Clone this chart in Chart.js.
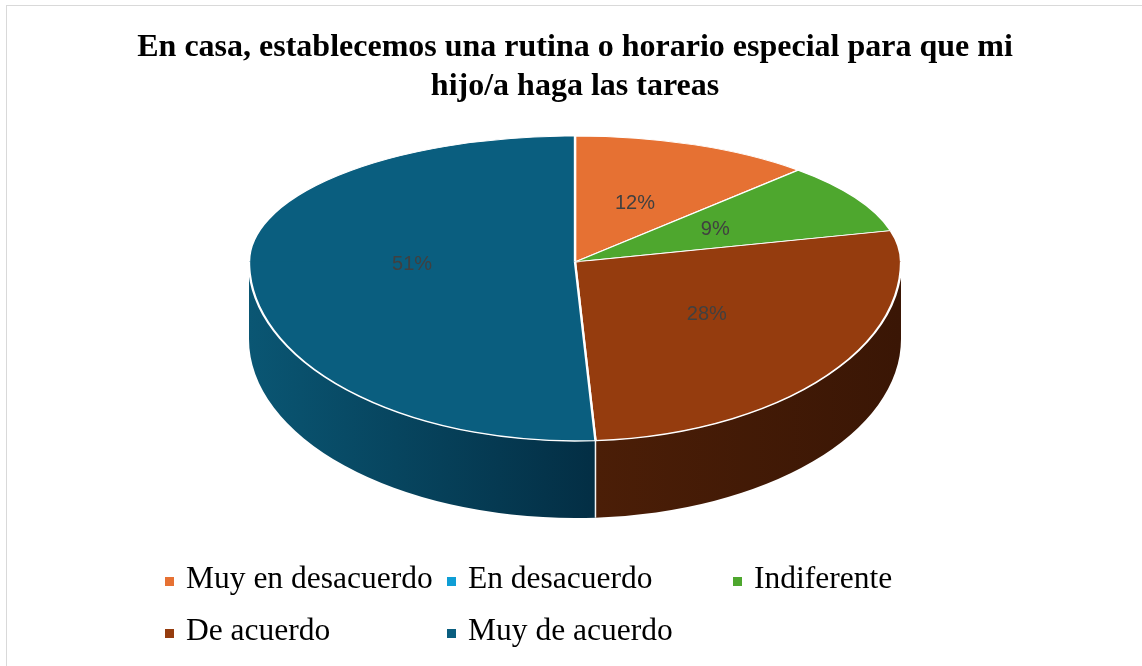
<!DOCTYPE html>
<html>
<head>
<meta charset="utf-8">
<script src="https://cdn.jsdelivr.net/npm/chart.js@4/dist/chart.umd.min.js"></script>
<style>
html,body{margin:0;padding:0;background:#fff;}
#wrap{position:relative;width:1142px;height:666px;overflow:hidden;}
#frame{position:absolute;left:6px;top:5px;width:1200px;height:720px;border:1px solid #d9d9d9;pointer-events:none;}
#c{position:absolute;left:0;top:0;}
.lg{position:absolute;font-family:"Liberation Serif","Times New Roman",serif;font-size:31.5px;line-height:30px;color:#000;white-space:nowrap;height:30px;}
.lg i{position:absolute;left:0;top:14px;width:9px;height:9px;}
.lg span{position:absolute;left:21px;top:0;}
</style>
</head>
<body>
<div id="wrap">
  <div id="frame"></div>
  <canvas id="c" width="1142" height="666"></canvas>
</div>
<script>
// ---- data ----
const titleLines = ["En casa, establecemos una rutina o horario especial para que mi", "hijo/a haga las tareas"];
const categories = ["Muy en desacuerdo", "En desacuerdo", "Indiferente", "De acuerdo", "Muy de acuerdo"];
const values = [12, 0, 9, 28, 51];
const colors = ["#E67133", "#0F9ED5", "#4EA72E", "#953C0E", "#0A5E7F"];
const wallColors = [["#8a4320","#6e3518"],["#095f80","#074a66"],["#2f651c","#244f16"],["#4B1E07","#3A1605"],["#0A5673","#032E44"]];

// ---- 3D pie geometry (view) ----
const CX = 575, CY = 262, RX = 326, RY_TOP = 126, RY_BOT = 179, DEPTH = 77;

function toScreen(arc0, px, py) {
  const R = arc0.outerRadius;
  const dx = px - arc0.x, dy = py - arc0.y;
  return { x: CX + dx * RX / R, y: CY + dy * (dy < 0 ? RY_TOP : RY_BOT) / R };
}

const pie3d = {
  id: 'pie3d',
  beforeDatasetDraw(chart, args) {
    const ctx = chart.ctx;
    const arcs = args.meta.data;
    if (!arcs.length) return;
    const ax = arcs[0].x, ay = arcs[0].y, R = arcs[0].outerRadius;
    // side walls (front half: canvas angles 0..PI)
    arcs.forEach((arc, i) => {
      const a = Math.max(arc.startAngle, 0), b = Math.min(arc.endAngle, Math.PI);
      if (b - a <= 1e-4) return;
      const xa = CX + RX * Math.cos(a), xb = CX + RX * Math.cos(b);
      const g = ctx.createLinearGradient(Math.min(xa, xb), 0, Math.max(xa, xb), 0);
      g.addColorStop(0, wallColors[i][0]);
      g.addColorStop(1, wallColors[i][1]);
      ctx.save();
      ctx.beginPath();
      ctx.ellipse(CX, CY, RX, RY_BOT, 0, a, b, false);
      ctx.lineTo(CX + RX * Math.cos(b), CY + DEPTH + RY_BOT * Math.sin(b));
      ctx.ellipse(CX, CY + DEPTH, RX, RY_BOT, 0, b, a, true);
      ctx.closePath();
      ctx.fillStyle = g;
      ctx.fill();
      ctx.restore();
    });
    // wall separators
    arcs.forEach((arc) => {
      const s = arc.startAngle;
      if (s > 0.001 && s < Math.PI - 0.001 && arc.circumference > 0) {
        const x = CX + RX * Math.cos(s), y = CY + RY_BOT * Math.sin(s);
        ctx.save();
        ctx.strokeStyle = '#f4f4f4';
        ctx.lineWidth = 1.5;
        ctx.beginPath();
        ctx.moveTo(x, y);
        ctx.lineTo(x, y + DEPTH);
        ctx.stroke();
        ctx.restore();
      }
    });
    // top face, drawn by the chart's own arc elements
    [[0, CY + 0.5, RY_TOP], [CY - 0.5, chart.height, RY_BOT]].forEach(([y0, y1, ry]) => {
      ctx.save();
      ctx.beginPath();
      ctx.rect(0, y0, chart.width, y1 - y0);
      ctx.clip();
      ctx.translate(CX, CY);
      ctx.scale(RX / R, ry / R);
      ctx.translate(-ax, -ay);
      arcs.forEach(a => a.draw(ctx));
      ctx.restore();
    });
    return false;
  },
  afterDatasetsDraw(chart) {
    const ctx = chart.ctx;
    const meta = chart.getDatasetMeta(0);
    const arcs = meta.data;
    if (!arcs.length) return;
    ctx.save();
    ctx.font = '20px "Liberation Sans", Arial, sans-serif';
    ctx.fillStyle = '#404040';
    ctx.textAlign = 'center';
    ctx.textBaseline = 'middle';
    arcs.forEach((arc, i) => {
      if (!values[i]) return;
      const p = arc.tooltipPosition();
      const s = toScreen(arcs[0], p.x, p.y);
      ctx.fillText(values[i] + '%', s.x, s.y);
    });
    ctx.restore();
  }
};

const chart = new Chart(document.getElementById('c'), {
  type: 'pie',
  data: {
    labels: categories,
    datasets: [{
      data: values,
      backgroundColor: colors,
      borderColor: '#ffffff',
      borderWidth: 2
    }]
  },
  options: {
    responsive: false,
    animation: false,
    devicePixelRatio: 1,
    events: [],
    layout: { padding: { left: 8 } },
    plugins: {
      legend: { display: false },
      tooltip: { enabled: false },
      title: {
        display: true,
        text: titleLines,
        color: '#000',
        font: { family: '"Liberation Serif", "Times New Roman", serif', size: 32, weight: 'bold', lineHeight: 1.2 },
        padding: { top: 29, bottom: 10 }
      }
    }
  },
  plugins: [pie3d]
});

// ---- legend (HTML, built from the chart data) ----
const legendPos = [[165, 563], [447, 563], [733, 563], [165, 615], [447, 615]];
const wrap = document.getElementById('wrap');
chart.data.labels.forEach((lab, i) => {
  const d = document.createElement('div');
  d.className = 'lg';
  d.style.left = legendPos[i][0] + 'px';
  d.style.top = legendPos[i][1] + 'px';
  const m = document.createElement('i');
  m.style.background = chart.data.datasets[0].backgroundColor[i];
  const t = document.createElement('span');
  t.textContent = lab;
  d.appendChild(m); d.appendChild(t);
  wrap.appendChild(d);
});
</script>
</body>
</html>
